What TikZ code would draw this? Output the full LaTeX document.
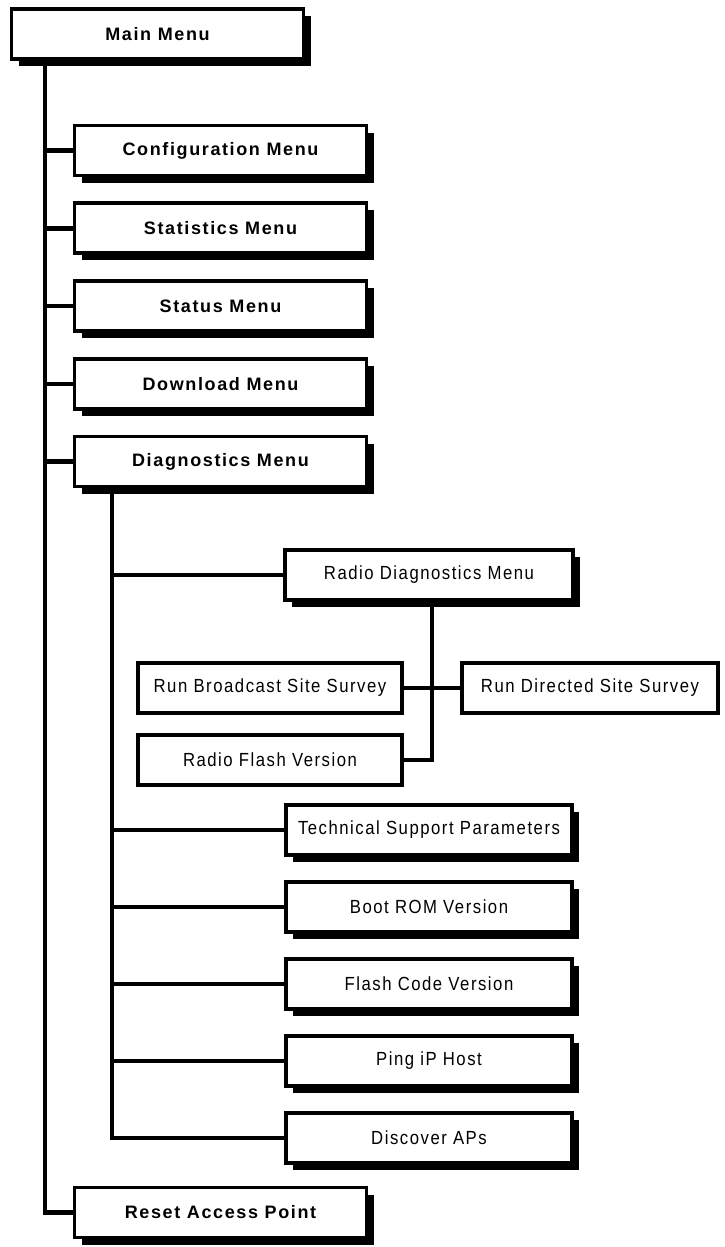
\documentclass[tikz,border=0pt]{standalone}
\usepackage{fontspec}
\newfontfamily\menufont[LetterSpace=9]{Liberation Sans}
\newfontfamily\itemfont[LetterSpace=8,FakeStretch=0.88]{Liberation Sans}
\usepackage{tikz}
\usetikzlibrary{shadows}
\usetikzlibrary{calc}

\begin{document}
\begin{tikzpicture}[x=1pt, y=-1pt,
	plainbox/.style={draw, line width=3.8pt, fill=white, minimum height=50pt, inner sep=0pt,
		font=\itemfont\fontsize{19}{22}\selectfont},
	item/.style={plainbox, drop shadow={shadow xshift=7pt, shadow yshift=-7pt, fill=black, opacity=1}},
	menu/.style={item, font=\menufont\bfseries\fontsize{18}{21}\selectfont},
	link/.style={line width=4.5pt}]
	\useasboundingbox (0,0) rectangle (724,1247);

	\node[menu, minimum width=292pt] (main) at (157.5, 34) {Main Menu};
	\foreach \name/\y/\text in {conf/150.5/Configuration Menu, stat/228.3/Statistics Menu,
		status/306/Status Menu, down/383.8/Download Menu, diag/461.5/Diagnostics Menu,
		reset/1212.5/Reset Access Point}
		\node[menu, minimum width=292pt] (\name) at (220.5, \y) {\text};

	\node[item, minimum width=288pt] (rdiag) at (429, 575) {Radio Diagnostics Menu};
	\node[plainbox, minimum width=264pt] (bcast) at (270, 688) {Run Broadcast Site Survey};
	\node[plainbox, minimum width=264pt] (rflash) at (270, 760) {Radio Flash Version};
	\node[plainbox, minimum width=256pt] (direct) at (590, 688) {Run Directed Site Survey};
	\foreach \name/\y/\text in {tech/830/Technical Support Parameters, boot/907/Boot ROM Version,
		flash/984/Flash Code Version, ping/1061/Ping iP Host, disc/1138/Discover APs}
		\node[item, minimum width=286pt] (\name) at (429, \y) {\text};

	\coordinate (mtrunk) at (45, 0);
	\coordinate (dtrunk) at (112, 0);
	\coordinate (rtrunk) at (432, 0);

	\draw[link] (main.south -| mtrunk) -- (mtrunk |- reset.west) -- (reset.west);
	\foreach \name in {conf, stat, status, down, diag}
		\draw[link] (mtrunk |- \name.west) -- (\name.west);

	\draw[link] (diag.south -| dtrunk) -- (dtrunk |- disc.west) -- (disc.west);
	\foreach \name in {rdiag, tech, boot, flash, ping}
		\draw[link] (dtrunk |- \name.west) -- (\name.west);

	\draw[link] (rdiag.south -| rtrunk) -- (rtrunk |- rflash.east) -- (rflash.east);
	\draw[link] (bcast.east) -- (direct.west);
\end{tikzpicture}
\end{document}
